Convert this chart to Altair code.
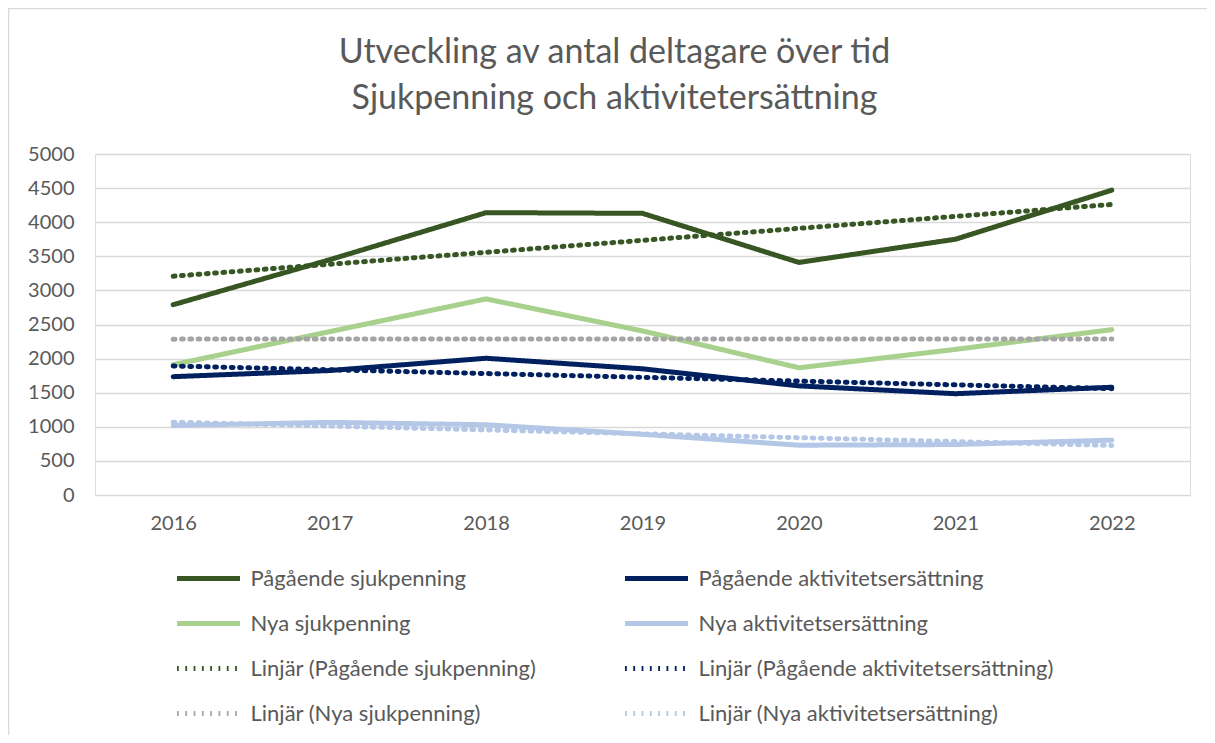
import altair as alt
import pandas as pd

years = [2016, 2017, 2018, 2019, 2020, 2021, 2022]
pagaende_sjukpenning = [2790, 3450, 4140, 4130, 3410, 3750, 4470]
pagaende_aktivitet = [1735, 1825, 2005, 1850, 1600, 1485, 1580]
nya_sjukpenning = [1910, 2395, 2875, 2405, 1865, 2135, 2425]
nya_aktivitet = [1020, 1065, 1030, 890, 730, 740, 805]

series_names = ["Pågående sjukpenning", "Pågående aktivitetsersättning",
                "Nya sjukpenning", "Nya aktivitetsersättning"]
trend_names = ["Linjär (" + s + ")" for s in series_names]
# legend fills column by column: left column, then right column
legend_order = [series_names[0], series_names[2], trend_names[0], trend_names[2],
                series_names[1], series_names[3], trend_names[1], trend_names[3]]

line_colors = ["#375623", "#A9D18E", "#375623", "#A5A5A5",
               "#002060", "#B4C7E7", "#002060", "#B4C7E7"]
solid = [1, 0]
dotted = [1.8, 6.5]
line_dashes = [solid, solid, dotted, dotted, solid, solid, dotted, dotted]
line_widths = [5, 5, 3, 3, 5, 5, 3, 3]

title_lines = ["Utveckling av antal deltagare över tid",
               "Sjukpenning och aktivitetersättning"]
y_ticks = list(range(0, 5001, 500))

values_by_series = [pagaende_sjukpenning, pagaende_aktivitet, nya_sjukpenning, nya_aktivitet]
rows = []
for name, vals in zip(series_names, values_by_series):
    for yr, v in zip(years, vals):
        rows.append({"year": yr, "value": v, "series": name})
df = pd.DataFrame(rows)

FONT = "Lato"
TXT = "#595959"

color_scale = alt.Scale(domain=legend_order, range=line_colors)
dash_scale = alt.Scale(domain=legend_order, range=line_dashes)
width_scale = alt.Scale(domain=legend_order, range=line_widths)

legend = alt.Legend(
    title=None, orient="none", legendX=79.5, legendY=390.5, columns=2,
    columnPadding=78, rowPadding=0, symbolType="stroke", symbolSize=63 * 63,
    labelOffset=8, labelFontSize=22, labelFont=FONT, labelColor=TXT,
    labelLimit=600, padding=0,
)

x_enc = alt.X("year:Q", scale=alt.Scale(domain=[2015.5, 2022.5], nice=False, zero=False),
              axis=alt.Axis(values=years, format="d", grid=False, domain=False, ticks=False,
                            labelFontSize=20, labelFont=FONT, labelColor=TXT,
                            labelPadding=18, title=None))
y_enc = alt.Y("value:Q", scale=alt.Scale(domain=[0, 5000], nice=False),
              axis=alt.Axis(values=y_ticks, format="d", grid=True, gridColor="#D9D9D9",
                            gridWidth=1.3, domain=False, ticks=False, labelFontSize=20,
                            labelFont=FONT, labelColor=TXT, labelPadding=21, title=None))

enc = dict(
    x=x_enc, y=y_enc,
    color=alt.Color("name:N", scale=color_scale, legend=legend, sort=legend_order),
    strokeDash=alt.StrokeDash("name:N", scale=dash_scale, legend=legend, sort=legend_order),
    strokeWidth=alt.StrokeWidth("name:N", scale=width_scale, legend=legend, sort=legend_order),
    detail="name:N",
)

lines = alt.Chart(df).transform_calculate(name="datum.series").mark_line(
    strokeCap="round", strokeJoin="round").encode(**enc)

trends = alt.Chart(df).transform_regression(
    "year", "value", groupby=["series"], method="linear"
).transform_calculate(name="'Linjär (' + datum.series + ')'").mark_line(
    strokeCap="round").encode(**enc)

frame = alt.Chart(alt.Data(values=[{"a": 1}])).mark_rect(
    filled=False, stroke="#D9D9D9", strokeWidth=1.5).encode(
    x=alt.value(-86.5), x2=alt.value(1300), y=alt.value(-145.5), y2=alt.value(800))

chart = alt.layer(frame, lines, trends).properties(
    width=1095, height=341,
    title=alt.TitleParams(title_lines, fontSize=34, font=FONT, fontWeight="normal",
                          color=TXT, lineHeight=46, anchor="middle", frame="group",
                          dx=-28, offset=-108),
    autosize=alt.AutoSizeParams(type="none"),
    padding={"left": 87, "top": 146, "right": 17, "bottom": 240},
).configure_view(stroke=None).configure(background="white")

chart.save("out.html", embed_options={"renderer": "svg", "actions": False})
